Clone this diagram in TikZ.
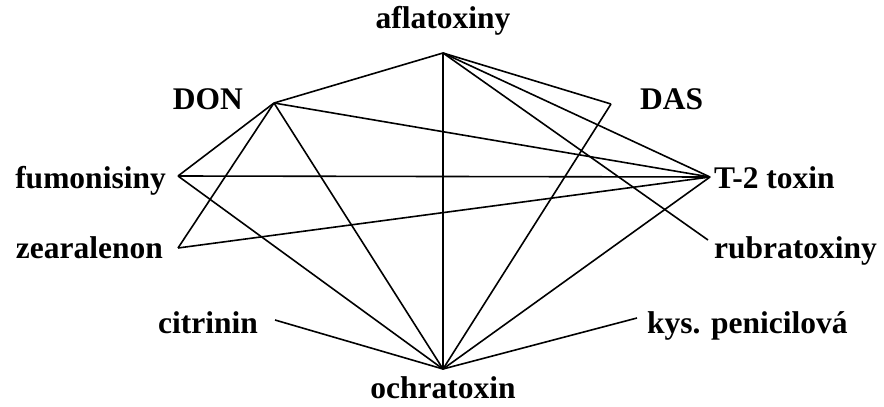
\documentclass[tikz,border=0pt]{standalone}
\usepackage{fontspec}
\setmainfont{Liberation Serif}
\begin{document}
\begin{tikzpicture}[x=1pt,y=-1pt,
  lbl/.style={inner sep=0pt,font=\fontsize{31.5}{36}\selectfont\bfseries},
  edge/.style={line width=1.6pt,line join=round}]
\useasboundingbox (0,0) rectangle (884,407);
% vertices
\coordinate (A) at (443,53);
\coordinate (D) at (274,103);
\coordinate (S) at (611,104);
\coordinate (F) at (178,176);
\coordinate (T) at (710,177);
\coordinate (Z) at (178,248);
\coordinate (R) at (708,240);
\coordinate (C) at (275,320);
\coordinate (K) at (637,318);
\coordinate (O) at (443,369);
% labels
\node[lbl,anchor=base] (lA) at (443,28) {aflatoxiny};
\node[lbl,anchor=base east] (lD) at (243,109) {DON};
\node[lbl,anchor=base west] (lS) at (640,109) {DAS};
\node[lbl,anchor=base east] (lF) at (166,188) {fumonisiny};
\node[lbl,anchor=base west] (lT) at (714,188) {T-2 toxin};
\node[lbl,anchor=base east] (lZ) at (163,258) {zearalenon};
\node[lbl,anchor=base west] (lR) at (714,258) {rubratoxiny};
\node[lbl,anchor=base east] (lC) at (258,333) {citrinin};
\node[lbl,anchor=base west] (lK) at (647,333) {kys. penicilová};
\node[lbl,anchor=base] (lO) at (443,398) {ochratoxin};
% edges
\draw[edge] (A) -- (D);
\draw[edge] (A) -- (S);
\draw[edge] (A) -- (T);
\draw[edge] (A) -- (R);
\draw[edge] (A) -- (O);
\draw[edge] (D) -- (F);
\draw[edge] (D) -- (Z);
\draw[edge] (D) -- (O);
\draw[edge] (D) -- (T);
\draw[edge] (F) -- (T);
\draw[edge] (F) -- (O);
\draw[edge] (Z) -- (T);
\draw[edge] (S) -- (O);
\draw[edge] (T) -- (O);
\draw[edge] (C) -- (O);
\draw[edge] (K) -- (O);
\end{tikzpicture}
\end{document}
